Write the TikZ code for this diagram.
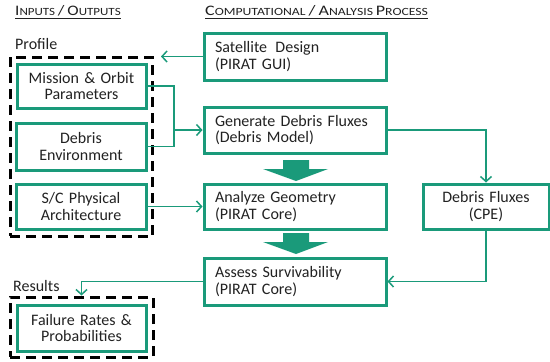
\documentclass[tikz,border=0pt]{standalone}
\usepackage{fontspec}
\setmainfont{Carlito}
\usetikzlibrary{arrows.meta,calc}
\definecolor{grn}{RGB}{26,154,122}
\definecolor{txt}{RGB}{34,34,34}
\newcommand{\bodyfont}{\fontsize{16}{16.5}\selectfont}
\newcommand{\bigc}[1]{{\fontsize{14.5}{15}\selectfont #1}}
\newcommand{\smc}[1]{{\fontsize{11}{12}\selectfont #1}}
\begin{document}
\begin{tikzpicture}[x=1pt,y=-1pt,
  box/.style={draw=grn, line width=3pt, fill=white, text=txt, font=\bodyfont, inner ysep=0pt},
  lbox/.style={box, align=left, inner xsep=11pt, text width=160pt},
  cbox/.style={box, align=center, inner xsep=2pt},
  dashbox/.style={draw=black, line width=3pt, dash pattern=on 10pt off 6pt, inner sep=0pt},
  conn/.style={draw=grn, line width=1.5pt},
  arr/.style={conn, -{Straight Barb[length=5pt,width=11pt]}},
  lbl/.style={text=txt, font=\bodyfont, inner sep=0pt, anchor=base west},
  hdr/.style={text=txt, inner sep=0pt, anchor=base west},
  bigarrow/.pic={\fill[grn] (-13,0) -- (13,0) -- (13,9) -- (32,9) -- (0,21) -- (-33,9) -- (-13,9) -- cycle;}
]
\useasboundingbox (0,0) rectangle (550,362);
% headers
\node[hdr] (h1) at (15,15.7) {\underline{\scalebox{1.18}[1]{\bigc{I}\smc{NPUTS}\bigc{\,/\,O}\smc{UTPUTS}}}};
\node[hdr] (h2) at (205,15.7) {\underline{\scalebox{1.245}[1]{\bigc{C}\smc{OMPUTATIONAL}\bigc{\,/\,A}\smc{NALYSIS} \bigc{P}\smc{ROCESS}}}};
\node[lbl] (plab) at (15,49) {Profile};
\node[lbl] (rlab) at (13,291) {Results};
% dashed frames
\node[dashbox, minimum width=142.5pt, minimum height=179pt] (prof) at (81.25,146.5) {};
\node[dashbox, minimum width=143pt, minimum height=60pt] (res) at (81.5,327) {};
% process boxes
\node[lbox, minimum height=47pt] (sat) at (295,56.5) {Satellite\hspace{3pt} Design\\(PIRAT GUI)};
\node[lbox, minimum height=46pt] (gen) at (295,130) {Generate Debris Fluxes\\(Debris Model)};
\node[lbox, minimum height=45pt] (ana) at (295,206.5) {Analyze Geometry\\(PIRAT Core)};
\node[lbox, minimum height=47pt] (ass) at (295,281.5) {Assess Survivability\\(PIRAT Core)};
\node[cbox, text width=122pt, minimum height=45pt] (cpe) at (486,206.5) {Debris Fluxes\\(CPE)};
% input boxes
\node[cbox, text width=125pt, minimum height=44pt] (mis) at (81.5,86) {Mission \& Orbit\\Parameters};
\node[cbox, text width=126pt, minimum height=47pt] (deb) at (81,146.5) {Debris\\Environment};
\node[cbox, text width=126pt, minimum height=45pt] (sc) at (81,206.5) {S/C Physical\\Architecture};
\node[cbox, text width=125pt, minimum height=46pt] (fail) at (81.5,328) {Failure Rates \&\\Probabilities};
% connectors
\coordinate (satend) at (161,56.5);
\draw[arr] (sat.west) -- (satend);
\coordinate (j1) at (174,146.5);
\coordinate (j2) at (174,130);
\draw[conn] (mis.east) -| (j1);
\draw[conn] (deb.east) -- (j1);
\draw[arr] (j2) -- (gen.west);
\draw[arr] (gen.east) -| (cpe.north);
\draw[arr] (sc.east) -- (ana.west);
\draw[arr] (cpe.south) |- (ass.east);
\draw[arr] (ass.west) -| (res.north);
% big arrows
\pic at (296,160) {bigarrow};
\pic at (296,233) {bigarrow};
\end{tikzpicture}
\end{document}
